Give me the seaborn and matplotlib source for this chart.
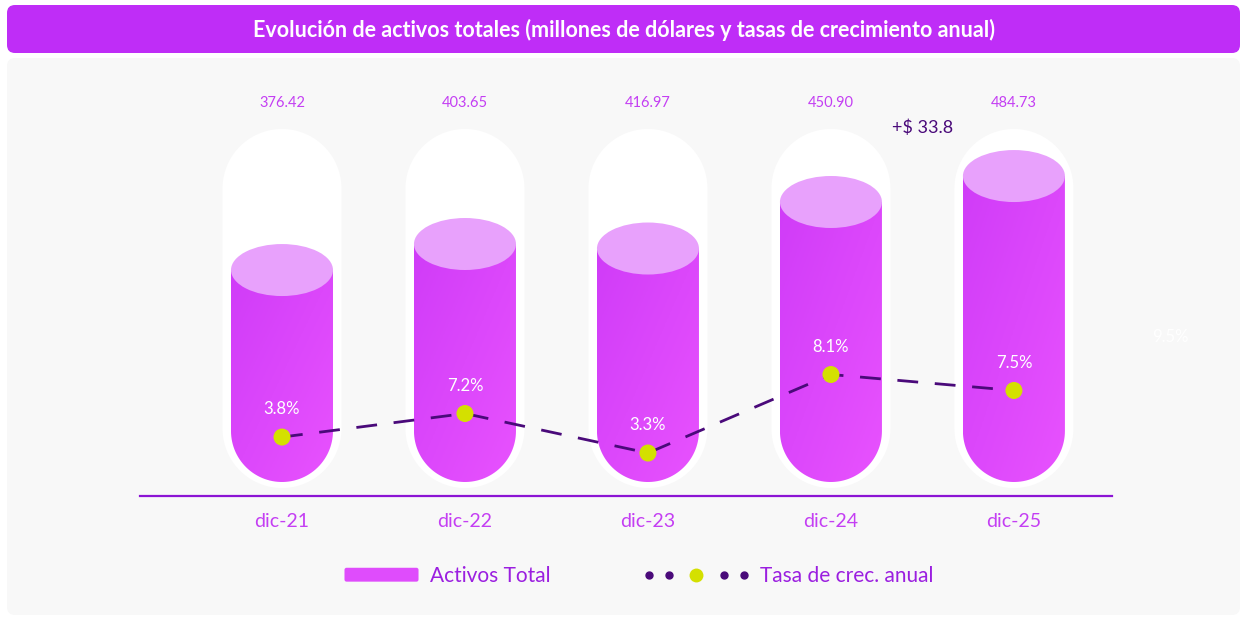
import numpy as np
import matplotlib
matplotlib.use('Agg')
import matplotlib.pyplot as plt
import seaborn as sns
from matplotlib.patches import FancyBboxPatch, Ellipse, Polygon, Rectangle
from matplotlib.lines import Line2D
from matplotlib.legend_handler import HandlerBase
from matplotlib.colors import LinearSegmentedColormap

# data
periodos = ['dic-21', 'dic-22', 'dic-23', 'dic-24', 'dic-25']
activos = [376.42, 403.65, 416.97, 450.90, 484.73]
altura_barras = [376.4, 406.4, 401.2, 454.8, 484.7]   # cylinder heights as drawn
tasas = [3.8, 7.2, 3.3, 8.1, 7.5]
pos_tasas = [4.27, 5.70, 3.30, 8.07, 7.10]            # point heights as drawn
titulo = 'Evolución de activos totales (millones de dólares y tasas de crecimiento anual)'

W, H = 1248, 617
sns.set_theme(style='white')
plt.rcParams['font.family'] = ['Lato', 'DejaVu Sans']

fig = plt.figure(figsize=(W / 100, H / 100), dpi=100)
fig.patch.set_facecolor('white')

# background layer in pixel coords
bg = fig.add_axes([0, 0, 1, 1])
bg.set_xlim(0, W)
bg.set_ylim(H, 0)
bg.axis('off')
bg.add_patch(FancyBboxPatch((7, 5), 1233, 48, boxstyle='round,pad=0,rounding_size=8',
                            fc='#bf2df7', ec='none'))
bg.add_patch(FancyBboxPatch((7, 58), 1233, 557, boxstyle='round,pad=0,rounding_size=8',
                            fc='#f8f8f8', ec='none'))
bg.text(624, 30, titulo, color='white', fontsize=15.5, fontweight='bold',
        ha='center', va='center')
bg.text(1170, 337, '9.5%', color='white', fontsize=12, ha='center', va='center')

# main axes
ax_l, ax_r, ax_b, ax_t = 140, 1112, 496, 60
ax = fig.add_axes([ax_l / W, (H - ax_b) / H, (ax_r - ax_l) / W, (ax_b - ax_t) / H])
ax.set_facecolor('none')
xlim = (-0.776, 4.536)
ylim = (116.07, 618.4)
px_x = (ax_r - ax_l) / (xlim[1] - xlim[0])
px_y = (ax_b - ax_t) / (ylim[1] - ylim[0])
base = ylim[0] + 14 / px_y

sns.barplot(x=periodos, y=altura_barras, ax=ax, width=102 / px_x)
barras = [(p.get_x(), p.get_width(), p.get_height()) for p in ax.patches]
for p in list(ax.patches):
    p.remove()

cmap = LinearSegmentedColormap.from_list('cil', ['#d03cf8', '#e852fe'])
grad = np.add.outer(np.linspace(0, 1, 60), np.linspace(0, 1, 60)) / 2

cap_w = 119 / px_x
cap_top = ylim[0] + (ax_b - 129) / px_y
cap_bot = ylim[0] + (ax_b - 488) / px_y
theta = np.linspace(0, np.pi, 60)

for x0, w, top in barras:
    cx = x0 + w / 2
    # white capsule behind
    rc = cap_w / 2
    ryc = rc * px_x / px_y
    pts = np.vstack([
        np.column_stack([cx + rc * np.cos(theta), cap_top - ryc + ryc * np.sin(theta)]),
        np.column_stack([cx - rc * np.cos(theta), cap_bot + ryc - ryc * np.sin(theta)]),
    ])
    ax.add_patch(Polygon(pts, closed=True, fc='white', ec='none', zorder=1, clip_on=False))
    # cylinder body
    rx = w / 2
    ry = rx * px_x / px_y
    semi = np.column_stack([cx - rx * np.cos(theta), base + ry - ry * np.sin(theta)])
    body = np.vstack([[cx - rx, top], semi, [cx + rx, top]])
    poly = Polygon(body, closed=True, transform=ax.transData)
    im = ax.imshow(grad, extent=(cx - rx, cx + rx, base, top), cmap=cmap,
                   aspect='auto', origin='upper', zorder=2)
    im.set_clip_path(poly)
    ax.add_patch(Ellipse((cx, top), w, 52 / px_y, fc='#e8a1fc', ec='none', zorder=3))

for i, v in enumerate(activos):
    ax.text(i, ylim[0] + (ax_b - 103) / px_y, f'{v:.2f}', ha='center', va='center',
            color='#c43ff3', fontsize=10.5)

dif = activos[4] - activos[3]
ax.text(3.5, ylim[0] + (ax_b - 128) / px_y, f'+$ {dif:.1f}', ha='center', va='center',
        color='#4a0a7a', fontsize=13)

ax.set_xlim(*xlim)
ax.set_ylim(*ylim)
ax.set_xticks(range(len(periodos)))
ax.set_xticklabels(periodos)
ax.tick_params(axis='x', length=0, pad=12, labelsize=14, labelcolor='#c43ff3')
ax.set_yticks([])
ax.set_xlabel('')
ax.set_ylabel('')
for s in ['top', 'left', 'right']:
    ax.spines[s].set_visible(False)
ax.spines['bottom'].set_color('#8c14d4')
ax.spines['bottom'].set_linewidth(1.6)

# growth rate line
ax2 = ax.twinx()
sns.lineplot(x=list(range(len(tasas))), y=pos_tasas, ax=ax2, color='#4a0a7a',
             lw=2, linestyle=(0, (7.5, 6)))
sns.scatterplot(x=list(range(len(tasas))), y=pos_tasas, ax=ax2, color='#d4e000',
                s=150, edgecolor='none', zorder=5)
for i, (t, p) in enumerate(zip(tasas, pos_tasas)):
    ax2.annotate(f'{t}%', (i, p), xytext=(0, 20), textcoords='offset points',
                 ha='center', va='center', color='white', fontsize=12)
ax2.set_ylim(0.688, 27.18)
ax2.set_yticks([])
ax2.set_ylabel('')
for s in ax2.spines.values():
    s.set_visible(False)


class BarraHandler(HandlerBase):
    def create_artists(self, legend, orig_handle, xdescent, ydescent, width, height,
                       fontsize, trans):
        w, h = 53.3, 10
        p = FancyBboxPatch((width - w - xdescent, (height - h) / 2 - ydescent), w, h,
                           boxstyle='round,pad=0,rounding_size=1.5', fc='#df4cfc',
                           ec='none', transform=trans)
        return [p]


class PuntosHandler(HandlerBase):
    def create_artists(self, legend, orig_handle, xdescent, ydescent, width, height,
                       fontsize, trans):
        y = height / 2 - ydescent
        xs = np.array([5, 25, 80, 100]) * 0.72 - xdescent
        l1 = Line2D(xs, [y] * 4, ls='none', marker='o', ms=5, color='#4a0a7a',
                    transform=trans)
        l2 = Line2D([52 * 0.72 - xdescent], [y], ls='none', marker='o', ms=10,
                    color='#d4e000', mec='none', transform=trans)
        return [l1, l2]


h1 = Rectangle((0, 0), 1, 1)
h2 = Line2D([], [])
fig.legend([h1, h2], ['Activos Total', 'Tasa de crec. anual'],
           handler_map={h1: BarraHandler(), h2: PuntosHandler()},
           loc='center', bbox_to_anchor=(0.4996, (H - 576) / H), ncol=2, frameon=False,
           fontsize=15, labelcolor='#9b1fe0', handlelength=5.04, handletextpad=0.55,
           columnspacing=4.46)

fig.savefig('out.png', dpi=100)
